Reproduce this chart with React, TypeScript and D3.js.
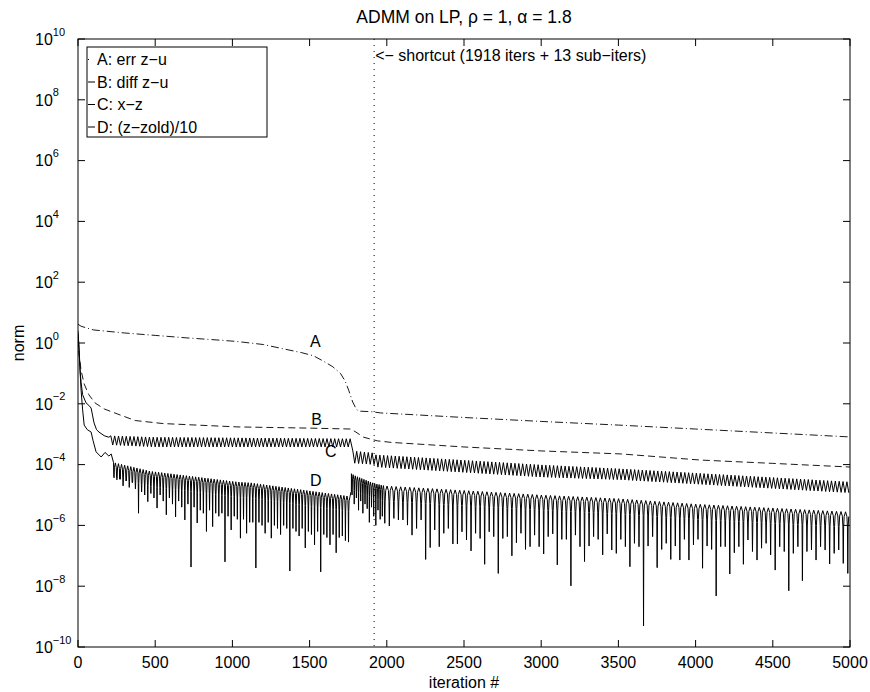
import React from "react";
import * as d3 from "d3";

// ---------------- data (norms stored as log10) ----------------

const xTicks = [0, 500, 1000, 1500, 2000, 2500, 3000, 3500, 4000, 4500, 5000];
const yTickExps = [-10, -8, -6, -4, -2, 0, 2, 4, 6, 8, 10];

const shortcutIter = 1918;

// A: err z-u
const iterA = [0, 20, 100, 300, 500, 700, 900, 1030, 1200, 1310, 1450, 1525, 1590, 1650, 1700, 1730, 1753, 1779, 1800, 1815, 1900, 1960, 2500, 3000, 3500, 4000, 4500, 5000];
const logA = [0.62, 0.55, 0.43, 0.33, 0.25, 0.17, 0.1, 0.05, -0.05, -0.17, -0.32, -0.42, -0.6, -0.78, -1.0, -1.25, -1.55, -1.94, -2.15, -2.24, -2.26, -2.3, -2.45, -2.58, -2.7, -2.83, -2.96, -3.09];

// B: diff z-u
const iterB = [0, 5, 20, 40, 70, 110, 170, 290, 370, 550, 1030, 1500, 1766, 1800, 1850, 1940, 2030, 2500, 3000, 3520, 4030, 4500, 5000];
const logB = [0.1, -0.3, -0.9, -1.35, -1.7, -1.97, -2.17, -2.4, -2.55, -2.65, -2.76, -2.8, -2.83, -2.93, -3.1, -3.22, -3.27, -3.42, -3.55, -3.65, -3.85, -3.96, -4.08];

// C: x-z, start, then an oscillating band (crest / trough envelopes)
const iterCStart = [0, 3, 8, 15, 20, 30, 52, 70, 85, 95, 104, 120, 136, 170, 200];
const logCStart = [0.4, 0.1, -0.3, -1.0, -1.3, -1.7, -1.97, -2.05, -2.14, -2.4, -2.63, -2.85, -2.93, -3.05, -3.1];
const cPeriod = 25;
const iterCEnv = [200, 500, 1026, 1766, 1780, 1918, 1930, 3000, 3520, 5000];
const logCCrest = [-3.05, -3.1, -3.12, -3.15, -3.55, -3.62, -3.68, -4.01, -4.14, -4.57];
const logCTrough = [-3.35, -3.42, -3.42, -3.42, -3.95, -4.0, -4.08, -4.41, -4.5, -4.93];

// D: (z-zold)/10, start, then humps with downward spikes
const iterDStart = [0, 5, 12, 20, 30, 40, 60, 85, 97, 117, 150, 175, 200, 215, 230];
const logDStart = [0.3, 0.0, -0.8, -1.55, -2.2, -2.7, -2.85, -2.93, -3.2, -3.58, -3.75, -3.6, -3.72, -3.65, -3.93];
const iterDTop = [230, 470, 1030, 1120, 1766, 1771, 1800, 1918, 1987, 2500, 3000, 3500, 4000, 4500, 5000];
const logDTop = [-3.93, -4.22, -4.57, -4.6, -5.05, -4.3, -4.38, -4.62, -4.7, -4.85, -5.0, -5.12, -5.3, -5.43, -5.56];

const dSpikesBeforeStart = 232;
const dSpikesBeforePeriod = 20;
const dSpikesBefore = [
  -4.4, -4.5, -4.3, -4.7, -4.5, -4.75, -4.6, -4.8, -5.6, -4.9, -5.0, -5.22, -4.95, -5.1, -5.43, -5.0,
  -5.2, -5.65, -5.1, -5.3, -5.72, -5.2, -5.4, -5.82, -5.3, -7.37, -5.4, -5.92, -5.5, -5.6, -6.2, -5.5,
  -6.04, -5.6, -5.7, -5.6, -7.2, -5.7, -6.15, -5.7, -5.8, -6.42, -5.8, -6.26, -5.9, -5.9, -7.4, -5.9,
  -6.0, -6.26, -5.9, -6.42, -6.0, -6.1, -6.3, -6.0, -6.1, -7.5, -6.1, -6.2, -6.35, -6.1, -6.74, -6.2,
  -6.3, -6.64, -6.2, -7.53, -6.3, -6.4, -6.64, -6.3, -6.9, -6.4, -6.35, -6.5, -6.55,
];

const dSpikesJumpStart = 1775;
const dSpikesJumpPeriod = 14;
const dSpikesJump = [-5.0, -5.3, -5.1, -5.5, -5.2, -5.6, -5.3, -5.45, -5.9, -5.4, -5.7, -6.0, -5.5, -5.8, -5.7];

const dSpikesAfterStart = 1987;
const dSpikesAfterPeriod = 29.4;
const dSpikesAfter = [
  -5.93, -6.02, -5.77, -5.82, -5.82, -5.99, -6.32, -6.1, -5.82, -7.12, -6.73, -6.15, -6.7, -6.26, -6.1, -6.61,
  -6.61, -6.21, -6.48, -6.84, -6.26, -6.43, -7.28, -6.21, -6.37, -7.58, -6.43, -6.37, -7.0, -6.57, -6.26, -6.79,
  -6.7, -6.32, -6.7, -6.94, -6.37, -6.28, -7.3, -6.46, -6.46, -7.99, -6.32, -6.7, -7.19, -6.68, -6.37, -6.46,
  -6.97, -6.28, -6.81, -6.92, -6.46,
  -6.7, -7.36, -6.59, -6.7, -9.31, -6.68, -6.37, -7.39, -6.79, -6.59, -7.12, -6.68, -7.14, -6.46, -7.14, -6.64,
  -6.46, -7.41, -6.68, -6.79, -8.32, -6.7, -6.7, -7.6, -6.9, -6.7, -7.28, -6.48, -6.86, -7.14, -6.75, -6.59,
  -6.97, -7.47, -6.7, -6.86, -8.15, -6.92, -6.7, -7.82, -6.86, -6.81, -7.14, -6.7, -6.81, -7.27, -6.92, -6.81,
  -7.25, -7.58,
];

const legendLabels = ["A: err z\u2212u", "B: diff z\u2212u", "C: x\u2212z", "D: (z\u2212zold)/10"];

// ---------------- helpers ----------------

type Pt = [number, number];
const zip = (a: number[], b: number[]): Pt[] => a.map((v, i) => [v, b[i]] as Pt);

// shape of one hump between two spikes: [fraction of period, drop below the top]
const hump: Pt[] = [[0.08, 0.5], [0.2, 0.15], [0.5, 0], [0.8, 0.15], [0.92, 0.5]];

function spikeTrain(start: number, period: number, depths: number[], top: (t: number) => number): Pt[] {
  const pts: Pt[] = [];
  depths.forEach((d, i) => {
    const t = start + i * period;
    pts.push([t, d]);
    hump.forEach(([f, drop]) => {
      const u = t + f * period;
      pts.push([u, top(u) - drop]);
    });
  });
  return pts;
}

function band(start: number, end: number, period: number, crest: (t: number) => number, trough: (t: number) => number): Pt[] {
  const pts: Pt[] = [];
  for (let k = 0; start + (k * period) / 2 <= end; k++) {
    const t = start + (k * period) / 2;
    pts.push([t, k % 2 === 0 ? crest(t) : trough(t)]);
  }
  return pts;
}

const FONT = "'Liberation Sans', Arial, Helvetica, sans-serif";

export default function App() {
  const x = d3.scaleLinear().domain([0, 5000]).range([78, 850]);
  const y = d3.scaleLog().domain([1e-10, 1e10]).range([647, 39]);
  const line = d3
    .line<Pt>()
    .x(d => x(d[0]))
    .y(d => y(Math.pow(10, d[1])));

  const [x0, x1] = x.range();
  const [yb, yt] = y.range();

  // series
  const ptsA = zip(iterA, logA);
  const ptsB = zip(iterB, logB);

  const crest = d3.scaleLinear().domain(iterCEnv).range(logCCrest).clamp(true);
  const trough = d3.scaleLinear().domain(iterCEnv).range(logCTrough).clamp(true);
  const ptsC = [
    ...zip(iterCStart, logCStart),
    ...band(212.5, 1766, cPeriod, crest, trough),
    ...band(1780, 5000, cPeriod, crest, trough),
  ];

  const dTop = d3.scaleLinear().domain(iterDTop).range(logDTop).clamp(true);
  const ptsD = [
    ...zip(iterDStart, logDStart),
    ...spikeTrain(dSpikesBeforeStart, dSpikesBeforePeriod, dSpikesBefore, dTop),
    [1771, dTop(1771)] as Pt,
    ...spikeTrain(dSpikesJumpStart, dSpikesJumpPeriod, dSpikesJump, dTop),
    ...spikeTrain(dSpikesAfterStart, dSpikesAfterPeriod, dSpikesAfter, dTop),
  ].filter(p => p[0] <= 5000);

  const tickLen = 7;

  return (
    <svg
      width={870}
      height={692}
      style={{ position: "absolute", left: 0, top: 0, display: "block" }}
      fontFamily={FONT}
    >
      <rect width={870} height={692} fill="#fff" />
      <defs>
        <clipPath id="plot">
          <rect x={x0} y={yt} width={x1 - x0} height={yb - yt} />
        </clipPath>
      </defs>

      <g clipPath="url(#plot)" fill="none" stroke="#000">
        <path d={line(ptsA) || ""} strokeWidth={0.9} strokeDasharray="8,3,1,3" />
        <path d={line(ptsB) || ""} strokeWidth={0.9} strokeDasharray="7,4" />
        <path d={line(ptsC) || ""} strokeWidth={1} />
        <path d={line(ptsD) || ""} strokeWidth={1} />
        <line
          x1={x(shortcutIter)}
          x2={x(shortcutIter)}
          y1={yt}
          y2={yb}
          strokeWidth={1}
          strokeDasharray="1,5"
        />
      </g>

      {/* axes box and ticks */}
      <rect x={x0} y={yt} width={x1 - x0} height={yb - yt} fill="none" stroke="#000" strokeWidth={1} />
      <g stroke="#000" strokeWidth={1}>
        {xTicks.map(t => (
          <g key={"xt" + t}>
            <line x1={x(t)} x2={x(t)} y1={yb} y2={yb - tickLen} />
            <line x1={x(t)} x2={x(t)} y1={yt} y2={yt + tickLen} />
          </g>
        ))}
        {yTickExps.map(e => (
          <g key={"yt" + e}>
            <line x1={x0} x2={x0 + tickLen} y1={y(Math.pow(10, e))} y2={y(Math.pow(10, e))} />
            <line x1={x1} x2={x1 - tickLen} y1={y(Math.pow(10, e))} y2={y(Math.pow(10, e))} />
          </g>
        ))}
      </g>

      <g fontSize={16} fill="#000">
        {xTicks.map(t => (
          <text key={"xl" + t} x={x(t)} y={yb + 21} textAnchor="middle">
            {t}
          </text>
        ))}
        {yTickExps.map(e => (
          <text key={"yl" + e} x={35} y={y(Math.pow(10, e)) + 5.8}>
            <tspan>10</tspan>
            <tspan dy={-9.3} fontSize={11}>
              {e < 0 ? "\u2212" + Math.abs(e) : String(e)}
            </tspan>
          </text>
        ))}
      </g>

      {/* title and axis labels */}
      <text x={(x0 + x1) / 2} y={23} textAnchor="middle" fontSize={17.5}>
        ADMM on LP, ρ = 1, α = 1.8
      </text>
      <text x={(x0 + x1) / 2} y={688} textAnchor="middle" fontSize={16}>
        iteration #
      </text>
      <text transform={`translate(24,${(yt + yb) / 2}) rotate(-90)`} textAnchor="middle" fontSize={16}>
        norm
      </text>

      {/* annotations */}
      <text x={x(shortcutIter) + 1} y={y(Math.pow(10, 9.28))} fontSize={16}>
        {"<\u2212 shortcut (1918 iters + 13 sub\u2212iters)"}
      </text>
      <g fontSize={16}>
        <text x={x(1503)} y={y(Math.pow(10, -0.13))}>A</text>
        <text x={x(1510)} y={y(Math.pow(10, -2.7))}>B</text>
        <text x={x(1600)} y={y(Math.pow(10, -3.75))}>C</text>
        <text x={x(1503)} y={y(Math.pow(10, -4.7))}>D</text>
      </g>

      {/* legend */}
      <g>
        <rect x={87} y={47} width={180} height={90} fill="#fff" stroke="#000" strokeWidth={1} />
        {legendLabels.map((s, i) => (
          <g key={s}>
            <line
              x1={88}
              x2={i === 0 ? 89 : 95}
              y1={59.5 + i * 22.5}
              y2={59.5 + i * 22.5}
              stroke="#000"
              strokeWidth={1}
            />
            <text x={97} y={65 + i * 22.5} fontSize={16}>
              {s}
            </text>
          </g>
        ))}
      </g>
    </svg>
  );
}
